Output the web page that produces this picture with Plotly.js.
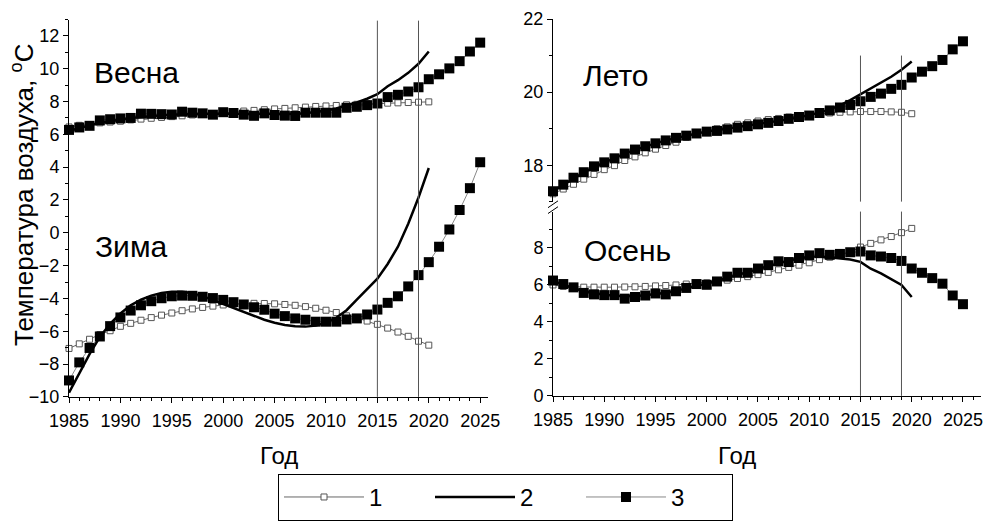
<!DOCTYPE html>
<html><head><meta charset="utf-8">
<script src="https://cdn.plot.ly/plotly-3.0.1.min.js"></script>
<style>html,body{margin:0;padding:0;background:#fff}#chart{width:984px;height:521px}</style>
</head><body><div id="chart"></div>
<script>
// ---- data ----
const yearsAll = [1985,1986,1987,1988,1989,1990,1991,1992,1993,1994,1995,1996,1997,1998,1999,2000,2001,2002,2003,2004,2005,2006,2007,2008,2009,2010,2011,2012,2013,2014,2015,2016,2017,2018,2019,2020,2021,2022,2023,2024,2025];
const yearsModel = [1985,1986,1987,1988,1989,1990,1991,1992,1993,1994,1995,1996,1997,1998,1999,2000,2001,2002,2003,2004,2005,2006,2007,2008,2009,2010,2011,2012,2013,2014,2015,2016,2017,2018,2019,2020];
const seriesNames = ['1','2','3'];
const markerYears = [2015, 2019];

// Весна (spring)
const spring1 = [6.45,6.55,6.6,6.7,6.75,6.8,6.88,6.93,6.98,7.03,7.08,7.13,7.18,7.22,7.27,7.32,7.37,7.42,7.46,7.5,7.55,7.58,7.62,7.66,7.7,7.73,7.76,7.8,7.83,7.85,7.88,7.9,7.92,7.94,7.96,7.98];
const spring2 = [6.2,6.38,6.55,6.69,6.81,6.91,6.99,7.06,7.11,7.16,7.19,7.22,7.24,7.25,7.25,7.25,7.25,7.24,7.23,7.22,7.22,7.23,7.25,7.29,7.36,7.46,7.58,7.74,7.94,8.17,8.45,8.93,9.3,9.75,10.3,11.05];
const spring3 = [6.27,6.42,6.52,6.85,6.92,6.97,7.0,7.26,7.25,7.23,7.21,7.38,7.32,7.28,7.2,7.35,7.3,7.2,7.13,7.28,7.18,7.14,7.12,7.32,7.32,7.32,7.32,7.62,7.68,7.78,7.88,8.27,8.41,8.61,8.87,9.36,9.66,10.02,10.46,11.05,11.59];

// Зима (winter)
const winter1 = [-7.05,-6.77,-6.49,-6.2,-5.97,-5.7,-5.52,-5.33,-5.17,-5.02,-4.89,-4.75,-4.64,-4.55,-4.47,-4.4,-4.36,-4.33,-4.3,-4.31,-4.33,-4.37,-4.42,-4.5,-4.6,-4.72,-4.86,-5.06,-5.18,-5.38,-5.58,-5.81,-6.05,-6.31,-6.61,-6.85];
const winter2 = [-9.75,-8.55,-7.4,-6.35,-5.55,-4.92,-4.42,-4.08,-3.83,-3.67,-3.6,-3.6,-3.68,-3.86,-4.1,-4.35,-4.6,-4.85,-5.08,-5.3,-5.48,-5.62,-5.7,-5.72,-5.66,-5.48,-5.18,-4.72,-4.08,-3.45,-2.8,-1.9,-0.85,0.55,2.15,3.95];
const winter3 = [-9.0,-7.9,-7.02,-6.32,-5.69,-5.16,-4.74,-4.42,-4.17,-3.99,-3.87,-3.83,-3.84,-3.9,-3.98,-4.09,-4.23,-4.37,-4.54,-4.69,-4.93,-5.08,-5.22,-5.3,-5.42,-5.42,-5.42,-5.28,-5.22,-4.98,-4.68,-4.27,-3.87,-3.27,-2.58,-1.79,-0.85,0.2,1.39,2.72,4.3];

// Лето (summer)
const summer1 = [17.22,17.35,17.48,17.62,17.75,17.88,17.99,18.13,18.23,18.34,18.44,18.54,18.63,18.76,18.87,18.94,19.0,19.05,19.12,19.16,19.21,19.25,19.28,19.32,19.35,19.38,19.41,19.43,19.45,19.46,19.47,19.47,19.47,19.46,19.45,19.41];
const summer2 = [17.3,17.47,17.64,17.8,17.95,18.08,18.2,18.32,18.42,18.52,18.6,18.68,18.75,18.81,18.87,18.92,18.96,19.0,19.04,19.08,19.12,19.16,19.21,19.26,19.31,19.37,19.44,19.53,19.64,19.78,19.94,20.09,20.25,20.42,20.61,20.84];
const summer3 = [17.29,17.47,17.66,17.81,17.97,18.08,18.19,18.32,18.43,18.52,18.6,18.68,18.75,18.81,18.87,18.92,18.94,18.98,19.03,19.07,19.12,19.16,19.21,19.27,19.32,19.36,19.43,19.5,19.58,19.65,19.75,19.87,19.96,20.09,20.2,20.4,20.56,20.71,20.88,21.17,21.39];

// Осень (autumn)
const autumn1 = [6.0,5.92,5.9,5.88,5.88,5.88,5.88,5.89,5.9,5.92,5.95,5.97,6.0,6.05,6.08,6.12,6.18,6.26,6.35,6.45,6.56,6.68,6.82,6.95,7.07,7.2,7.37,7.5,7.63,7.78,8.05,8.25,8.44,8.62,8.83,9.06];
const autumn2 = [6.2,6.0,5.82,5.67,5.55,5.47,5.42,5.4,5.41,5.44,5.5,5.58,5.68,5.8,5.94,6.08,6.23,6.39,6.55,6.71,6.87,7.03,7.18,7.32,7.43,7.52,7.56,7.5,7.44,7.38,7.25,6.88,6.63,6.33,6.0,5.35];
const autumn3 = [6.24,6.05,5.87,5.57,5.49,5.45,5.45,5.26,5.35,5.43,5.54,5.49,5.66,5.84,6.05,6.01,6.19,6.45,6.66,6.66,6.89,7.07,7.28,7.24,7.46,7.6,7.72,7.63,7.68,7.77,7.81,7.6,7.54,7.46,7.3,6.89,6.66,6.37,6.07,5.43,4.96];

// ---- styles ----
const FONT = 'Liberation Sans, Arial, sans-serif';
function seasonTraces(xa, ya, s1, s2, s3, legend) {
  return [
    {x: yearsModel, y: s1, xaxis: xa, yaxis: ya, name: seriesNames[0], legendgroup: 'g1', legendrank: 1, showlegend: legend,
     mode: 'lines+markers', cliponaxis: false,
     line: {color: '#666', width: 1},
     marker: {symbol: 'square', size: 6, color: '#fff', line: {color: '#555', width: 1}}},
    {x: yearsAll, y: s3, xaxis: xa, yaxis: ya, name: seriesNames[2], legendgroup: 'g3', legendrank: 3, showlegend: legend,
     mode: 'lines+markers', cliponaxis: false,
     line: {color: '#888', width: 1},
     marker: {symbol: 'square', size: 10, color: '#000', line: {width: 0}}},
    {x: yearsModel, y: s2, xaxis: xa, yaxis: ya, name: seriesNames[1], legendgroup: 'g2', legendrank: 2, showlegend: legend,
     mode: 'lines', cliponaxis: false,
     line: {color: '#000', width: 2.5}}
  ];
}
const data = [].concat(
  seasonTraces('x', 'y', spring1, spring2, spring3, true),
  seasonTraces('x', 'y', winter1, winter2, winter3, false),
  seasonTraces('x2', 'y3', summer1, summer2, summer3, false),
  seasonTraces('x2', 'y2', autumn1, autumn2, autumn3, false)
);

const W = 984, H = 521;
const px = v => v / W, py = v => 1 - v / H;
const axisBase = {
  showline: true, linecolor: '#000', linewidth: 1, showgrid: false, zeroline: false,
  ticks: 'outside', ticklen: 5, tickwidth: 1, tickcolor: '#000',
  tickfont: {family: FONT, size: 18, color: '#000'},
  minor: {ticks: 'outside', ticklen: 3, tickwidth: 1, tickcolor: '#000', dtick: 1, showgrid: false},
  fixedrange: true
};

const shapes = [];
markerYears.forEach(yr => {
  shapes.push({type: 'line', xref: 'x', yref: 'y domain', x0: yr, x1: yr, y0: 0, y1: 0.997, line: {color: '#555', width: 1}});
  shapes.push({type: 'line', xref: 'x2', yref: 'y3', x0: yr, x1: yr, y0: 17, y1: 21, line: {color: '#555', width: 1}});
  shapes.push({type: 'line', xref: 'x2', yref: 'y2 domain', x0: yr, x1: yr, y0: 0, y1: 1, line: {color: '#555', width: 1}});
});
// axis break marks
shapes.push({type: 'line', xref: 'paper', yref: 'paper', x0: px(548), x1: px(558), y0: py(213), y1: py(206), line: {color: '#000', width: 1}});
shapes.push({type: 'line', xref: 'paper', yref: 'paper', x0: px(548), x1: px(558), y0: py(219), y1: py(212), line: {color: '#000', width: 1}});

const seasonFont = {family: FONT, size: 30, color: '#000'};
const annotations = [
  {text: 'Весна', xref: 'x', yref: 'y', x: 1987.2, y: 9.75, xanchor: 'left', yanchor: 'middle', showarrow: false, font: seasonFont},
  {text: 'Зима', xref: 'x', yref: 'y', x: 1987.3, y: -0.85, xanchor: 'left', yanchor: 'middle', showarrow: false, font: seasonFont},
  {text: 'Лето', xref: 'x2', yref: 'y3', x: 1987.7, y: 20.45, xanchor: 'left', yanchor: 'middle', showarrow: false, font: seasonFont},
  {text: 'Осень', xref: 'x2', yref: 'y2', x: 1987.8, y: 7.85, xanchor: 'left', yanchor: 'middle', showarrow: false, font: seasonFont},
  {text: 'Температура воздуха, <sup>o</sup>C', xref: 'paper', yref: 'paper', x: px(22), y: py(200), textangle: -90,
   xanchor: 'center', yanchor: 'middle', showarrow: false, font: {family: FONT, size: 26, color: '#000'}},
  {text: 'Год', xref: 'paper', yref: 'paper', x: px(279), y: py(467), xanchor: 'center', yanchor: 'middle', showarrow: false, font: {family: FONT, size: 24, color: '#000'}},
  {text: 'Год', xref: 'paper', yref: 'paper', x: px(737), y: py(467), xanchor: 'center', yanchor: 'middle', showarrow: false, font: {family: FONT, size: 24, color: '#000'}}
];

const layout = {
  width: W, height: H,
  margin: {l: 0, r: 0, t: 0, b: 0},
  paper_bgcolor: '#fff', plot_bgcolor: 'rgba(0,0,0,0)',
  font: {family: FONT, color: '#000'},
  xaxis: Object.assign({}, axisBase, {domain: [px(69), px(488)], range: [1985, 2025.76], tick0: 1985, dtick: 5, anchor: 'y', ticklabelstandoff: 3}),
  yaxis: Object.assign({}, axisBase, {domain: [py(407), py(20)], range: [-10, 13], tick0: -10, dtick: 2, anchor: 'x'}),
  xaxis2: Object.assign({}, axisBase, {domain: [px(553), px(981)], range: [1985, 2026.76], tick0: 1985, dtick: 5, anchor: 'y2', ticklabelstandoff: 3}),
  yaxis2: Object.assign({}, axisBase, {domain: [py(406), py(217)], range: [0, 9.97], tick0: 0, dtick: 2, anchor: 'x2'}),
  yaxis3: Object.assign({}, axisBase, {domain: [py(207), py(19.5)], range: [17, 22], tickvals: [18, 20, 22], anchor: 'x2'}),
  shapes: shapes,
  annotations: annotations,
  showlegend: true,
  legend: {
    orientation: 'h', x: px(278), y: py(486), xanchor: 'left', yanchor: 'top',
    bordercolor: '#000', borderwidth: 1, bgcolor: '#fff',
    font: {family: FONT, size: 24, color: '#000'},
    entrywidth: 56, entrywidthmode: 'pixels', itemwidth: 80,
    traceorder: 'normal'
  }
};

Plotly.newPlot('chart', data, layout, {staticPlot: true, displayModeBar: false});
</script>
</body></html>
